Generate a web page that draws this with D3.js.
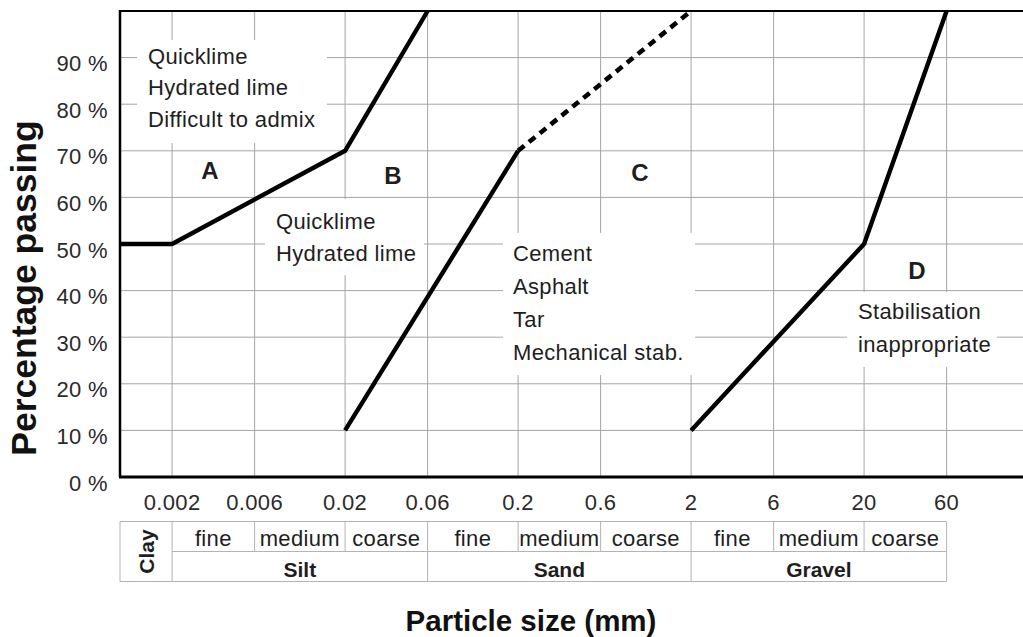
<!DOCTYPE html>
<html>
<head>
<meta charset="utf-8">
<script src="https://cdn.jsdelivr.net/npm/d3@7"></script>
<style>
  html, body { margin: 0; padding: 0; background: #fff; }
  svg { display: block; }
  text { font-family: Arial, "Liberation Sans", Helvetica, sans-serif; fill: #1e1e1e; }
</style>
</head>
<body>
<svg id="chart" width="1023" height="637"></svg>
<script>
// ---------------- data ----------------
const xTicks = [0.002, 0.006, 0.02, 0.06, 0.2, 0.6, 2, 6, 20, 60];
const xTickLabels = ["0.002", "0.006", "0.02", "0.06", "0.2", "0.6", "2", "6", "20", "60"];
const yTicks = [0, 10, 20, 30, 40, 50, 60, 70, 80, 90];
const yTickLabels = ["0 %", "10 %", "20 %", "30 %", "40 %", "50 %", "60 %", "70 %", "80 %", "90 %"];

// boundary lines [particle size mm, percentage passing]
const lineA = [[0.001, 50], [0.002, 50], [0.02, 70], [0.06, 100]];
const lineB = [[0.02, 10], [0.2, 70]];
const lineBDashed = [[0.2, 70], [2, 100]];
const lineD = [[2, 10], [20, 50], [60, 100]];

const zoneLabels = ["A", "B", "C", "D"];
const zoneTextA = ["Quicklime", "Hydrated lime", "Difficult to admix"];
const zoneTextB = ["Quicklime", "Hydrated lime"];
const zoneTextC = ["Cement", "Asphalt", "Tar", "Mechanical stab."];
const zoneTextD = ["Stabilisation", "inappropriate"];

// soil classification table
const fractions = ["Silt", "Sand", "Gravel"];
const fractionBounds = [[0.002, 0.06], [0.06, 2], [2, 60]];
const subClasses = ["fine", "medium", "coarse"];
const clayLabel = "Clay";
const xTitle = "Particle size (mm)";
const yTitle = "Percentage passing";

// ---------------- layout ----------------
const svg = d3.select("#chart");
const decade = 173;
const x = d3.scaleLog().domain([0.001, 200]).range([120, 120 + decade * Math.log10(200000)]);
const y = d3.scaleLinear().domain([0, 100]).range([477, 11]);
const plotLeft = x(0.001), plotRight = 1023;
const FS = 22, LS = "0.35px";

// grid
const grid = svg.append("g").attr("stroke", "#a4a4a4").attr("stroke-width", 1);
grid.selectAll("line.v").data(xTicks).join("line")
  .attr("x1", d => x(d)).attr("x2", d => x(d))
  .attr("y1", y(100)).attr("y2", y(0));
grid.selectAll("line.h").data(yTicks.filter(d => d > 0)).join("line")
  .attr("x1", plotLeft).attr("x2", plotRight)
  .attr("y1", d => y(d)).attr("y2", d => y(d));

// white text boxes (covering grid)
const boxes = [
  [137, 40, 327, 143],
  [265, 199, 424, 275],
  [503, 233, 695, 375],
  [847, 292, 997, 367]
];
svg.append("g").selectAll("rect").data(boxes).join("rect")
  .attr("x", d => d[0]).attr("y", d => d[1])
  .attr("width", d => d[2] - d[0]).attr("height", d => d[3] - d[1])
  .attr("fill", "#fff");

// axes frame
svg.append("line").attr("x1", plotLeft).attr("x2", plotRight).attr("y1", y(100)).attr("y2", y(100))
  .attr("stroke", "#000").attr("stroke-width", 2);
svg.append("line").attr("x1", plotLeft).attr("x2", plotLeft).attr("y1", y(100) - 1).attr("y2", y(0))
  .attr("stroke", "#000").attr("stroke-width", 2.5);
svg.append("line").attr("x1", plotLeft - 1).attr("x2", plotRight).attr("y1", y(0)).attr("y2", y(0))
  .attr("stroke", "#000").attr("stroke-width", 3);

// y tick labels
svg.append("g").selectAll("text").data(yTicks).join("text")
  .attr("x", 108).attr("y", d => y(d) + 13.5)
  .attr("text-anchor", "end").attr("font-size", FS).style("letter-spacing", LS).style("fill", "#2a2a2a")
  .text((d, i) => yTickLabels[i]);

// x tick labels
svg.append("g").selectAll("text").data(xTicks).join("text")
  .attr("x", d => x(d)).attr("y", 510)
  .attr("text-anchor", "middle").attr("font-size", FS).style("letter-spacing", LS).style("fill", "#2a2a2a")
  .text((d, i) => xTickLabels[i]);

// boundary lines
const line = d3.line().x(d => x(d[0])).y(d => y(d[1]));
[lineA, lineB, lineD].forEach(pts => {
  svg.append("path").attr("d", line(pts)).attr("fill", "none")
    .attr("stroke", "#000").attr("stroke-width", 4.4).attr("stroke-linejoin", "round");
});
svg.append("path").attr("d", line(lineBDashed)).attr("fill", "none")
  .attr("stroke", "#000").attr("stroke-width", 4.6).attr("stroke-dasharray", "8,6");

// zone annotations
function block(lines, x0, y0, step) {
  svg.append("g").selectAll("text").data(lines).join("text")
    .attr("x", x0).attr("y", (d, i) => y0 + i * step)
    .attr("font-size", FS).style("letter-spacing", LS).text(d => d);
}
block(zoneTextA, 148, 64, 31.3);
block(zoneTextB, 276, 228.5, 32.5);
block(zoneTextC, 513, 260.5, 33.2);
block(zoneTextD, 858, 319, 32.5);

const zonePos = [[210, 178.5], [393, 184], [640, 181], [917, 279]];
svg.append("g").selectAll("text").data(zoneLabels).join("text")
  .attr("x", (d, i) => zonePos[i][0]).attr("y", (d, i) => zonePos[i][1])
  .attr("text-anchor", "middle").attr("font-size", 24).attr("font-weight", "bold")
  .text(d => d);

// classification table
const tTop = 521.5, tMid = 551.5, tBot = 581.5;
const tg = svg.append("g").attr("stroke", "#b3b3b3").attr("stroke-width", 1);
const tLeft = x(0.001), tRight = x(60);
tg.append("line").attr("x1", tLeft).attr("x2", tRight).attr("y1", tTop).attr("y2", tTop);
tg.append("line").attr("x1", x(0.002)).attr("x2", tRight).attr("y1", tMid).attr("y2", tMid);
tg.append("line").attr("x1", tLeft).attr("x2", tRight).attr("y1", tBot).attr("y2", tBot);
const fullCols = [0.001, 0.002, 0.06, 2, 60];
tg.selectAll("line.fc").data(fullCols).join("line")
  .attr("x1", d => x(d)).attr("x2", d => x(d)).attr("y1", tTop).attr("y2", tBot);
const subTicks = xTicks.filter(d => !fullCols.includes(d));
tg.selectAll("line.sc").data(subTicks).join("line")
  .attr("x1", d => x(d)).attr("x2", d => x(d)).attr("y1", tTop).attr("y2", tMid);

// sub class labels
const subCells = [];
fractionBounds.forEach(([a, b]) => {
  const edges = xTicks.filter(t => t >= a && t <= b);
  for (let i = 0; i < 3; i++) subCells.push({ name: subClasses[i], a: edges[i], b: edges[i + 1] });
});
svg.append("g").selectAll("text").data(subCells).join("text")
  .attr("x", d => (x(d.a) + x(d.b)) / 2).attr("y", 546)
  .attr("text-anchor", "middle").attr("font-size", FS).style("letter-spacing", LS).text(d => d.name);
svg.append("g").selectAll("text").data(fractions).join("text")
  .attr("x", (d, i) => (x(fractionBounds[i][0]) + x(fractionBounds[i][1])) / 2).attr("y", 576.5)
  .attr("text-anchor", "middle").attr("font-size", 21).attr("font-weight", "bold").text(d => d);
svg.append("text")
  .attr("transform", `translate(${(x(0.001) + x(0.002)) / 2 + 8},${(tTop + tBot) / 2}) rotate(-90)`)
  .attr("text-anchor", "middle").attr("font-size", 21).attr("font-weight", "bold").text(clayLabel);

// axis titles
svg.append("text")
  .attr("transform", "translate(36,288) rotate(-90)")
  .attr("text-anchor", "middle").attr("font-size", 35.5).attr("font-weight", "bold").style("fill", "#111")
  .text(yTitle);
svg.append("text")
  .attr("x", 531).attr("y", 631)
  .attr("text-anchor", "middle").attr("font-size", 29.5).attr("font-weight", "bold").style("fill", "#111")
  .text(xTitle);
</script>
</body>
</html>
